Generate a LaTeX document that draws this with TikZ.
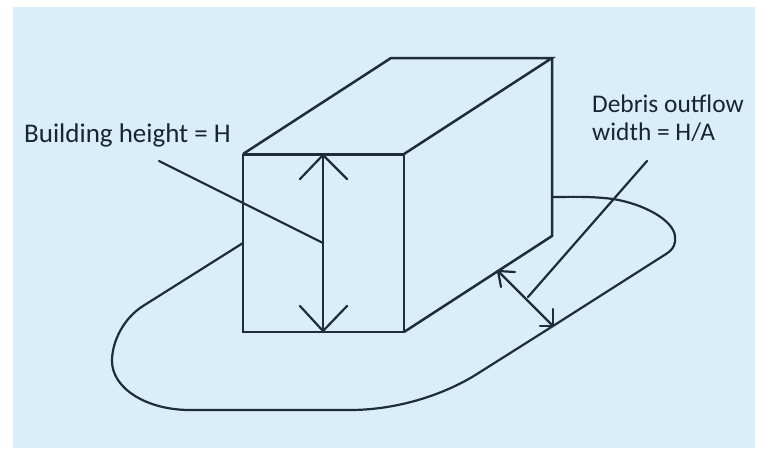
\documentclass[tikz,border=0pt]{standalone}
\usepackage{fontspec}
\setmainfont{Carlito}
\definecolor{bgblue}{HTML}{DAEDFA}
\definecolor{ink}{HTML}{1E2D38}
\tikzset{
  edge/.style={draw=ink,line width=2.5pt,line join=miter},
  thin edge/.style={draw=ink,line width=2.2pt,line cap=round},
  label text/.style={text=ink!85!black,inner sep=0pt,align=left}
}
\begin{document}
\begin{tikzpicture}[x=1pt,y=-1pt]
\useasboundingbox (0,0) rectangle (759,448);
\fill[white] (0,0) rectangle (759,448);
\fill[bgblue] (13,7) rectangle (755,448);
% building corners
\coordinate (ftl) at (243,154);
\coordinate (ftr) at (404,154);
\coordinate (fbr) at (404,332);
\coordinate (fbl) at (243,332);
\coordinate (btl) at (391,58);
\coordinate (btr) at (552,58);
\coordinate (bbr) at (552,236);
% outflow
\coordinate (o1) at (243,243);
\coordinate (o2) at (552,197);
\draw[thin edge,line cap=butt] (o1) -- (143,306)
  .. controls (124,318) and (112,341) .. (112,361)
  .. controls (112,388) and (146,410) .. (190,410)
  -- (350,410)
  .. controls (395,410) and (442,396) .. (477,374)
  -- (553,326) -- (666,254)
  .. controls (674,249) and (676,243) .. (675,236)
  .. controls (673,220) and (644,204) .. (613,199)
  .. controls (590,196) and (570,197) .. (o2);
% building
\draw[edge,line width=3pt] (ftl) -- (ftr);
\draw[edge] (ftr) -- (fbr);
\draw[edge] (ftl) -- (fbl) -- (fbr);
\draw[edge] (ftl) -- (btl) -- (btr) -- (ftr);
\draw[edge] (btr) -- (bbr) -- (fbr);
% height arrow
\coordinate (ha) at (323,155);
\coordinate (hb) at (323,331);
\draw[thin edge] (ha) -- (hb);
\draw[thin edge] (300,179) -- (ha) -- (347,179);
\draw[thin edge] (300,306) -- (hb) -- (347,306);
% width arrow
\coordinate (wa) at (498,271);
\coordinate (wb) at (553,326);
\draw[thin edge] (wa) -- (wb);
\draw[thin edge] (515,272) -- (wa) -- (501,287);
\draw[thin edge] (553,309) -- (wb) -- (540,326);
% labels
\node[label text,font=\fontsize{27}{28}\selectfont,anchor=base west] (hlabel) at (24,142) {Building height = H};
\node[label text,font=\fontsize{25.4}{28}\selectfont,anchor=base west] (wlabel1) at (592,112) {Debris outflow};
\node[label text,font=\fontsize{25.4}{28}\selectfont,anchor=base west] (wlabel2) at (592,140) {width = H/A};
% leaders
\coordinate (l1) at (159,161);
\coordinate (l1e) at (323,243);
\coordinate (l2) at (647,161);
\coordinate (l2e) at (528,297);
\draw[thin edge] (l1) -- (l1e);
\draw[thin edge] (l2) -- (l2e);
\end{tikzpicture}
\end{document}
